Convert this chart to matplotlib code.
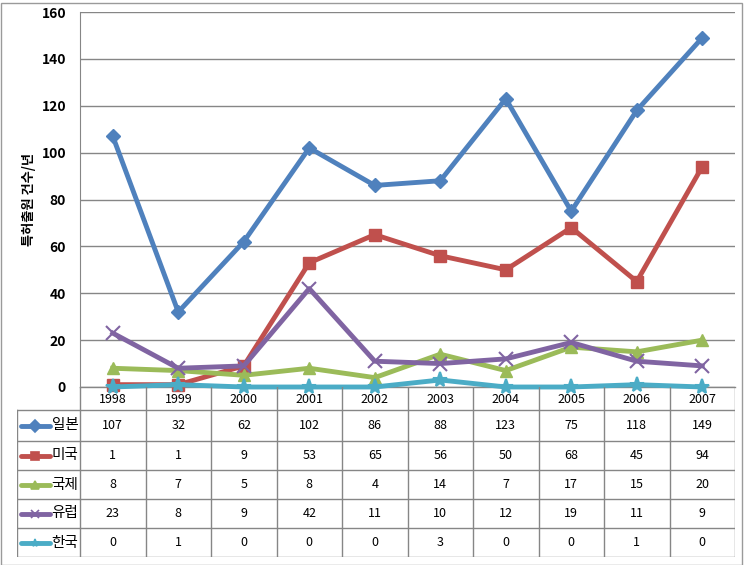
import matplotlib.pyplot as plt
from matplotlib.patches import Rectangle

plt.rcParams['font.family'] = ['Noto Sans CJK KR', 'DejaVu Sans']

years = ['1998', '1999', '2000', '2001', '2002', '2003', '2004', '2005', '2006', '2007']
names = ['일본', '미국', '국제', '유럽', '한국']
japan = [107, 32, 62, 102, 86, 88, 123, 75, 118, 149]
usa = [1, 1, 9, 53, 65, 56, 50, 68, 45, 94]
intl = [8, 7, 5, 8, 4, 14, 7, 17, 15, 20]
europe = [23, 8, 9, 42, 11, 10, 12, 19, 11, 9]
korea = [0, 1, 0, 0, 0, 3, 0, 0, 1, 0]
series = [japan, usa, intl, europe, korea]
colors = ['#4F81BD', '#C0504D', '#9BBB59', '#8064A2', '#4BACC6']
markers = ['D', 's', '^', 'x', '*']
msizes = [7, 8, 9, 10, 11]

W, H = 744, 565
fig = plt.figure(figsize=(W / 100, H / 100), dpi=100)
grey = '#868686'

# plot area (pixel positions)
px0, px1, py_top, py_bot = 80, 735, 12, 387
ax = fig.add_axes([px0 / W, 1 - py_bot / H, (px1 - px0) / W, (py_bot - py_top) / H])
x = list(range(len(years)))
for vals, c, m, ms in zip(series, colors, markers, msizes):
    ax.plot(x, vals, color=c, lw=3.5, marker=m, ms=ms, mec=c, mew=1.5 if m in 'x*' else 1,
            clip_on=False, zorder=3)
ax.axhline(0, color=grey, lw=1, clip_on=False, zorder=1)
ax.set_xlim(-0.5, 9.5)
ax.set_ylim(0, 160)
ax.set_yticks(range(0, 161, 20))
ax.set_xticks([])
ax.yaxis.grid(True, color=grey, lw=1)
ax.set_axisbelow(True)
for s in ['top', 'right', 'bottom']:
    ax.spines[s].set_visible(False)
ax.spines['left'].set_color(grey)
ax.tick_params(axis='y', length=0, pad=10, labelsize=10)
for t in ax.get_yticklabels():
    t.set_fontweight('bold')
ax.set_ylabel('특허출원 건수/년', fontsize=9.5, fontweight='bold', labelpad=4)

# data table
tx0 = 17
ty_bot = 557
unit = (px1 - px0) / 10
tab = fig.add_axes([tx0 / W, 1 - ty_bot / H, (px1 - tx0) / W, (ty_bot - py_bot) / H])
tab.set_xlim(-0.5 - (px0 - tx0) / unit, 9.5)
tab.set_ylim(ty_bot, py_bot)
tab.axis('off')
row_edges = [387, 410, 441, 470, 499, 528, 557]
xl = tab.get_xlim()[0]
# vertical lines
for i in range(11):
    tab.plot([i - 0.5, i - 0.5], [row_edges[0], row_edges[-1]], color=grey, lw=1)
tab.plot([xl, xl], [row_edges[1], row_edges[-1]], color=grey, lw=1)
# horizontal lines
for yy in row_edges[1:]:
    tab.plot([xl, 9.5], [yy, yy], color=grey, lw=1)
for i, yr in enumerate(years):
    tab.text(i, (row_edges[0] + row_edges[1]) / 2 + 1, yr, ha='center', va='center', fontsize=9)
for r, (nm, vals, c, m) in enumerate(zip(names, series, colors, markers)):
    yc = (row_edges[r + 1] + row_edges[r + 2]) / 2
    tab.plot([xl + 0.06, xl + 0.5], [yc, yc], color=c, lw=3.5, solid_capstyle='round')
    tab.plot([xl + 0.28], [yc], color=c, marker=m, ms=6, mew=1.2)
    tab.text(xl + 0.53, yc, nm, ha='left', va='center', fontsize=10.5)
    for i, v in enumerate(vals):
        tab.text(i, yc, str(v), ha='center', va='center', fontsize=9)

# chart border
fig.patches.append(Rectangle((0.5 / W, 0.5 / H), 1 - 3 / W, 1 - 3 / H, transform=fig.transFigure,
                             fill=False, edgecolor='#9a9a9a', lw=1))

plt.savefig('out.png', dpi=100)
